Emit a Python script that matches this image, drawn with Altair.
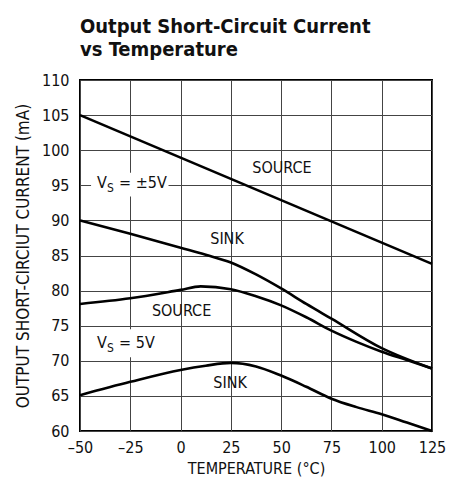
import altair as alt
import pandas as pd

FONT = "'DejaVu Sans Condensed', 'Liberation Sans', sans-serif"
TFONT = "'DejaVu Sans Condensed', 'Liberation Sans', sans-serif"

# ---- data ----
src_pm5_t = [-50, 125]
src_pm5_i = [105.0, 83.8]

sink_pm5_t = [-50, -25, 0, 12.5, 25, 37.5, 50, 62.5, 75, 100, 125]
sink_pm5_i = [90.0, 88.1, 86.1, 85.1, 84.0, 82.3, 80.3, 78.1, 76.0, 71.8, 68.9]

src_5_t = [-50, -25, 0, 10, 25, 37.5, 50, 62.5, 75, 87.5, 100, 112.5, 125]
src_5_i = [78.1, 78.9, 80.1, 80.6, 80.2, 79.2, 77.9, 76.2, 74.3, 72.7, 71.3, 70.1, 68.9]

sink_5_t = [-50, -25, 0, 12.5, 25, 37.5, 50, 62.5, 75, 87.5, 100, 112.5, 125]
sink_5_i = [65.1, 67.0, 68.7, 69.3, 69.7, 69.2, 67.9, 66.3, 64.6, 63.4, 62.4, 61.2, 60.0]

x_ticks = [-50, -25, 0, 25, 50, 75, 100, 125]
y_ticks = [60, 65, 70, 75, 80, 85, 90, 95, 100, 105, 110]

# curve annotations
lab_text = ["SOURCE", "SINK", "SOURCE", "SINK"]
lab_t = [50.4, 23.1, 0.5, 24.6]
lab_i = [97.5, 87.4, 77.1, 66.9]

# supply-voltage annotations (V, subscript S, rest)
vs_rest = ["= ±5V", "= 5V"]
vs_t = [-41.5, -41.5]
vs_i = [95.3, 72.6]
box_t1 = [-44.5, -44.0]
box_t2 = [-6.0, -12.0]
box_i1 = [93.4, 70.5]
box_i2 = [96.8, 74.5]

rows = []
for name, ts, vs in [("src_pm5", src_pm5_t, src_pm5_i), ("sink_pm5", sink_pm5_t, sink_pm5_i),
                     ("src_5", src_5_t, src_5_i), ("sink_5", sink_5_t, sink_5_i)]:
    for t, v in zip(ts, vs):
        rows.append({"series": name, "t": t, "i": v})
df = pd.DataFrame(rows)
labels = pd.DataFrame({"text": lab_text, "t": lab_t, "i": lab_i})
vs_df = pd.DataFrame({"rest": vs_rest, "t": vs_t, "i": vs_i})
box_df = pd.DataFrame({"t1": box_t1, "t2": box_t2, "i1": box_i1, "i2": box_i2})

xscale = alt.Scale(domain=[-50, 125], nice=False, zero=False)
yscale = alt.Scale(domain=[60, 110], nice=False, zero=False)

x_axis = alt.Axis(values=x_ticks, title="TEMPERATURE (°C)", grid=True, ticks=False, domain=False,
                  labelExpr="datum.value < 0 ? '–' + abs(datum.value) : datum.label",
                  labelPadding=8, titlePadding=5, labelFlush=False, labelOverlap=False,
                  titleFontSize=16)
y_axis = alt.Axis(values=y_ticks, title="OUTPUT SHORT-CIRCIUT CURRENT (mA)", grid=True, ticks=False,
                  domain=False, labelPadding=11, titlePadding=9, labelOverlap=False,
                  titleFontSize=17)


def X(field):
    return alt.X(field, scale=xscale, axis=x_axis)


def Y(field):
    return alt.Y(field, scale=yscale, axis=y_axis)


lines = alt.Chart(df).mark_line(color="black", strokeWidth=2.6, interpolate="monotone").encode(
    x=X("t:Q"), y=Y("i:Q"), detail="series:N",
)

boxes = alt.Chart(box_df).mark_rect(color="white").encode(
    x=X("t1:Q"), x2="t2:Q", y=Y("i1:Q"), y2="i2:Q",
)

txt = alt.Chart(labels).mark_text(font=FONT, fontSize=16, color="#111").encode(
    x=X("t:Q"), y=Y("i:Q"), text="text:N")
vtxt = alt.Chart(vs_df).mark_text(font=FONT, fontSize=16, color="#111", align="left").encode(
    x=X("t:Q"), y=Y("i:Q"), text=alt.value("V"))
stxt = alt.Chart(vs_df).mark_text(font=FONT, fontSize=12, color="#111", align="left", dx=10, dy=5).encode(
    x=X("t:Q"), y=Y("i:Q"), text=alt.value("S"))
rtxt = alt.Chart(vs_df).mark_text(font=FONT, fontSize=16, color="#111", align="left", dx=22).encode(
    x=X("t:Q"), y=Y("i:Q"), text="rest:N")

chart = alt.layer(lines, boxes, txt, vtxt, stxt, rtxt).properties(
    width=352, height=351,
    autosize=alt.AutoSizeParams(type="none"),
    padding={"left": 72, "top": 72, "right": 21, "bottom": 48},
    title=alt.TitleParams(["Output Short-Circuit Current", "vs Temperature"], anchor="start",
                          frame="group", font=TFONT, fontSize=20, fontWeight="bold",
                          lineHeight=23, offset=12, color="#111"),
).configure_view(stroke="black", strokeWidth=2).configure_axis(
    gridColor="#444", gridWidth=1, gridOpacity=1,
    labelFont=FONT, labelFontSize=16, labelColor="#111",
    titleFont=FONT, titleFontWeight="normal", titleColor="#111",
)

chart.save("out.html", embed_options={"renderer": "svg", "actions": False})
